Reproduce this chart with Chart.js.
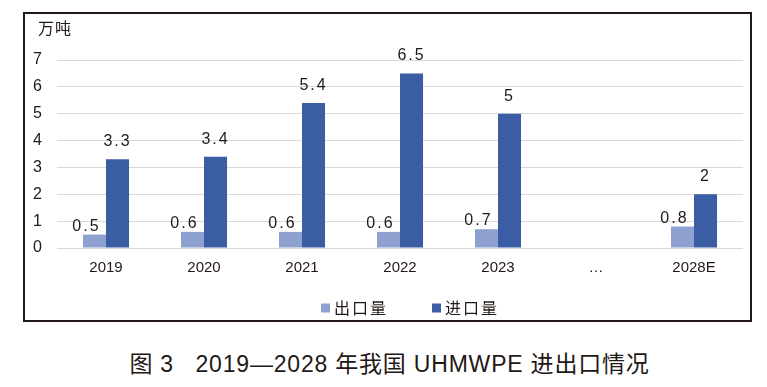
<!DOCTYPE html>
<html>
<head>
<meta charset="utf-8">
<script src="https://cdn.jsdelivr.net/npm/chart.js@4"></script>
<style>
  body { margin: 0; background: #fff; width: 767px; height: 387px; position: relative; font-family: "Liberation Sans", "Noto Sans CJK SC", sans-serif; }
  #box { position: absolute; left: 23px; top: 12px; width: 725px; height: 306px; border: 2px solid #231815; }
  #caption { position: absolute; left: 6px; width: 767px; top: 345px; text-align: center; font-size: 23px; letter-spacing: 0.8px; color: #231815; font-family: "Liberation Sans", "Noto Sans CJK SC", sans-serif; white-space: pre; }
</style>
</head>
<body>
<div id="box"><canvas id="chart" width="725" height="306"></canvas></div>
<div id="caption">图 3   2019—2028 年我国 UHMWPE 进出口情况</div>
<script>
// Catégories (années)
const years = ['2019', '2020', '2021', '2022', '2023', '…', '2028E'];
// 出口量 (万吨)
const exportVals = [0.5, 0.6, 0.6, 0.6, 0.7, null, 0.8];
// 进口量 (万吨)
const importVals = [3.3, 3.4, 5.4, 6.5, 5, null, 2];
// Graduations de l'axe y
const yTicks = [0, 1, 2, 3, 4, 5, 6, 7];

const ink = '#231815';

// Étiquettes de valeur au-dessus des barres, unité en haut à gauche, légende en bas
const decorations = {
    id: 'decorations',
    afterDatasetsDraw(chart) {
        const ctx = chart.ctx;
        ctx.save();
        ctx.fillStyle = ink;
        ctx.font = '16px "Liberation Sans", sans-serif';
        ctx.letterSpacing = '2px';
        ctx.textAlign = 'center';
        ctx.textBaseline = 'alphabetic';
        chart.data.datasets.forEach((ds, i) => {
            const meta = chart.getDatasetMeta(i);
            meta.data.forEach((bar, j) => {
                const v = ds.data[j];
                if (v == null) return;
                const dx = i === 0 ? -8 : 0;
                const dy = i === 0 ? 4 : 13;
                ctx.fillText(String(v), bar.x + dx, bar.y - dy);
            });
        });

        // unité
        ctx.letterSpacing = '1px';
        ctx.textAlign = 'left';
        ctx.textBaseline = 'middle';
        ctx.font = '16px "Noto Sans CJK SC", sans-serif';
        ctx.fillText('万吨', 13, 14);

        // légende
        ctx.letterSpacing = '2px';
        const box = 9, gap = 4, itemGap = 44;
        const items = chart.data.datasets.map(ds => ({ label: ds.label, color: ds.backgroundColor, w: ctx.measureText(ds.label).width }));
        const total = items.reduce((s, it) => s + box + gap + it.w, 0) + itemGap * (items.length - 1);
        const area = chart.chartArea;
        let x = (area.left + area.right) / 2 - total / 2 + 10;
        const y = 294;
        items.forEach(it => {
            ctx.fillStyle = it.color;
            ctx.fillRect(x, y - box / 2, box, box);
            ctx.fillStyle = ink;
            ctx.fillText(it.label, x + box + gap, y);
            x += box + gap + it.w + itemGap;
        });
        ctx.restore();
    }
};

new Chart(document.getElementById('chart'), {
    type: 'bar',
    data: {
        labels: years,
        datasets: [
            { label: '出口量', data: exportVals, backgroundColor: '#8EA0CF' },
            { label: '进口量', data: importVals, backgroundColor: '#3A5DA3' }
        ]
    },
    options: {
        responsive: false,
        animation: false,
        categoryPercentage: 0.47,
        barPercentage: 1,
        layout: { padding: { left: 0, right: 7, top: 46, bottom: 0 } },
        plugins: {
            legend: { display: false },
            tooltip: { enabled: false }
        },
        scales: {
            x: {
                grid: { display: false, drawTicks: false },
                border: { display: false },
                ticks: { color: ink, font: { size: 15 }, padding: 11 },
                afterFit: scale => { scale.height = 72; }
            },
            y: {
                min: 0,
                max: 7,
                afterBuildTicks: scale => { scale.ticks = yTicks.map(v => ({ value: v })); },
                grid: { color: '#D9D9D9', drawTicks: false },
                border: { display: false },
                ticks: { color: ink, font: { size: 16 }, padding: 15 },
                afterFit: scale => { scale.width = 32; }
            }
        }
    },
    plugins: [decorations]
});
</script>
</body>
</html>
